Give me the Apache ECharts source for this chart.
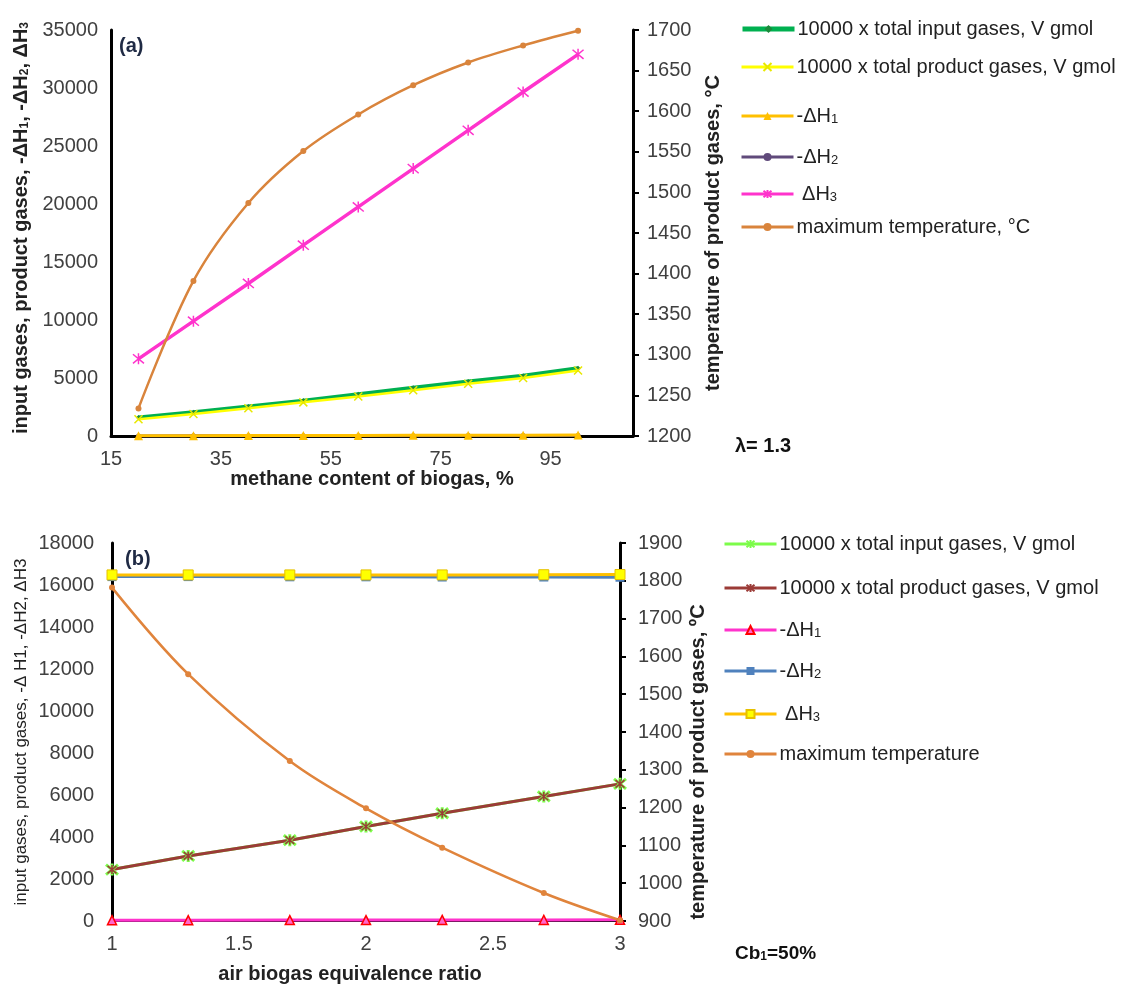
<!DOCTYPE html>
<html><head><meta charset="utf-8">
<script src="https://cdn.jsdelivr.net/npm/echarts@6/dist/echarts.min.js"></script>
<style>html,body{margin:0;padding:0;background:#fff}#c{width:1122px;height:985px}</style>
</head><body><div id="c"></div><script>
// ---------- (a) methane content of biogas ----------
const methaneContent = [20, 30, 40, 50, 60, 70, 80, 90, 100];
const aInputGases   = [1600, 2050, 2550, 3050, 3600, 4150, 4700, 5200, 5850];
const aProductGases = [1450, 1900, 2400, 2900, 3400, 3950, 4500, 5000, 5650];
const aDH1          = [20, 30, 35, 45, 50, 60, 65, 75, 80];
const aDH2          = [10, 15, 20, 25, 25, 30, 35, 40, 45];
const aDH3          = [6650, 9900, 13150, 16450, 19750, 23050, 26350, 29650, 32900];
const aMaxTemp      = [1234, 1391, 1487, 1551, 1596, 1632, 1660, 1681, 1699];
const aXTicks = [15, 35, 55, 75, 95];
const aLeftTicks = [0, 5000, 10000, 15000, 20000, 25000, 30000, 35000];
const aRightTicks = [1200, 1250, 1300, 1350, 1400, 1450, 1500, 1550, 1600, 1650, 1700];

// ---------- (b) air biogas equivalence ratio ----------
const airRatio      = [1, 1.3, 1.7, 2.0, 2.3, 2.7, 3.0];
const bInputGases   = [2450, 3100, 3850, 4500, 5130, 5930, 6530];
const bProductGases = [2450, 3100, 3850, 4500, 5130, 5930, 6530];
const bDH1          = [40, 40, 45, 45, 50, 50, 55];
const bDH2          = [16400, 16400, 16390, 16390, 16380, 16380, 16370];
const bDH3          = [16480, 16480, 16480, 16480, 16480, 16490, 16500];
const bMaxTemp      = [1782, 1553, 1323, 1198, 1094, 974, 902];
const bXTicks = [1, 1.5, 2, 2.5, 3];
const bLeftTicks = [0, 2000, 4000, 6000, 8000, 10000, 12000, 14000, 16000, 18000];
const bRightTicks = [900, 1000, 1100, 1200, 1300, 1400, 1500, 1600, 1700, 1800, 1900];

const FONT = 'Liberation Sans, Arial, sans-serif';
const pairs = (xs, ys) => xs.map((x, i) => [x, ys[i]]);
const SYM_X = 'path://M0,0L10,10M10,0L0,10';
const SYM_AST = 'path://M0,0L10,10M10,0L0,10M5,-1L5,11';
const plain = (v) => String(v);

const legendLabels = {
  'a1': '10000 x total input gases, V gmol',
  'a2': '10000 x total product gases, V gmol',
  'a3': '-ΔH{s|1}',
  'a4': '-ΔH{s|2}',
  'a5': ' ΔH{s|3}',
  'a6': 'maximum temperature, °C',
  'b1': '10000 x total input gases, V gmol',
  'b2': '10000 x total product gases, V gmol',
  'b3': '-ΔH{s|1}',
  'b4': '-ΔH{s|2}',
  'b5': ' ΔH{s|3}',
  'b6': 'maximum temperature'
};
const legendPos = [
  ['a1', 740, 30, 5], ['a2', 740, 68, 3], ['a3', 740, 117, 3], ['a4', 740, 158, 3], ['a5', 740, 195, 3], ['a6', 740, 228, 3],
  ['b1', 723, 545, 3], ['b2', 723, 589, 3], ['b3', 723, 631, 3], ['b4', 723, 672, 3], ['b5', 723, 715, 3], ['b6', 723, 755, 3]
];
const legends = legendPos.map(([n, x, y, w]) => ({
  data: [n], left: x, top: y - 11, padding: 0, itemWidth: 52, itemHeight: 10, itemGap: 5,
  lineStyle: { width: w },
  formatter: (name) => legendLabels[name],
  textStyle: { fontFamily: FONT, fontSize: 20, color: '#222', padding: [0, 0, 0, -2],
    rich: { s: { fontFamily: FONT, fontSize: 13, color: '#222', padding: [7, 0, 0, 0] } } }
}));

const axisLabelStyle = { fontFamily: FONT, fontSize: 20, color: '#404040', formatter: plain };
const blackLine = (w) => ({ show: true, onZero: false, lineStyle: { color: '#000', width: w } });

const option = {
  animation: false,
  backgroundColor: '#fff',
  legend: legends,
  grid: [
    { left: 111, right: 1122 - 633, top: 30, bottom: 985 - 436 },
    { left: 112, right: 1122 - 620, top: 543, bottom: 985 - 926 }
  ],
  xAxis: [
    { type: 'value', gridIndex: 0, min: 15, max: 110, interval: 20,
      axisLine: blackLine(3), axisTick: { show: false }, splitLine: { show: false },
      axisLabel: Object.assign({ margin: 13, showMaxLabel: false }, axisLabelStyle),
      name: 'methane content of biogas, %', nameLocation: 'middle', nameGap: 32,
      nameTextStyle: { fontFamily: FONT, fontSize: 20, fontWeight: 'bold', color: '#222' } },
    { type: 'value', gridIndex: 1, min: 1, max: 3, interval: 0.5,
      axisLine: blackLine(2), axisTick: { show: false }, splitLine: { show: false },
      axisLabel: Object.assign({ margin: 13 }, axisLabelStyle),
      name: 'air biogas equivalence ratio', nameLocation: 'middle', nameGap: 43,
      nameTextStyle: { fontFamily: FONT, fontSize: 20, fontWeight: 'bold', color: '#222', padding: [0, 32, 0, 0] } }
  ],
  yAxis: [
    { type: 'value', gridIndex: 0, position: 'left', min: 0, max: 35000, interval: 5000,
      axisLine: blackLine(3), axisTick: { show: false }, splitLine: { show: false },
      axisLabel: Object.assign({ margin: 13 }, axisLabelStyle),
      name: 'input gases, product gases, -ΔH{s|1}, -ΔH{s|2}, ΔH{s|3}', nameLocation: 'middle', nameGap: 80,
      nameTextStyle: { fontFamily: FONT, fontSize: 20, fontWeight: 'bold', color: '#222', padding: [0, 0, 0, 10],
        rich: { s: { fontFamily: FONT, fontSize: 12, fontWeight: 'bold', color: '#222', padding: [8, 0, 0, 0] } } } },
    { type: 'value', gridIndex: 0, position: 'right', min: 1200, max: 1700, interval: 50,
      axisLine: blackLine(3), axisTick: { show: true, inside: false, length: 6, lineStyle: { color: '#000', width: 2 } },
      splitLine: { show: false },
      axisLabel: Object.assign({ margin: 14 }, axisLabelStyle),
      name: 'temperature of product gases, °C', nameLocation: 'middle', nameGap: 70,
      nameTextStyle: { fontFamily: FONT, fontSize: 20, fontWeight: 'bold', color: '#222' } },
    { type: 'value', gridIndex: 1, position: 'left', min: 0, max: 18000, interval: 2000,
      axisLine: blackLine(3), axisTick: { show: false }, splitLine: { show: false },
      axisLabel: Object.assign({ margin: 18 }, axisLabelStyle),
      name: 'input gases, product gases, -Δ H1, -ΔH2, ΔH3', nameLocation: 'middle', nameGap: 82,
      nameTextStyle: { fontFamily: FONT, fontSize: 17, color: '#222' } },
    { type: 'value', gridIndex: 1, position: 'right', min: 900, max: 1900, interval: 100,
      axisLine: blackLine(3), axisTick: { show: true, inside: false, length: 6, lineStyle: { color: '#000', width: 2 } },
      splitLine: { show: false },
      axisLabel: Object.assign({ margin: 18 }, axisLabelStyle),
      name: 'temperature of product gases, ºC', nameLocation: 'middle', nameGap: 68,
      nameTextStyle: { fontFamily: FONT, fontSize: 20, fontWeight: 'bold', color: '#222', padding: [0, 60, 0, 0] } }
  ],
  series: [
    { name: 'a1', type: 'line', xAxisIndex: 0, yAxisIndex: 0, data: pairs(methaneContent, aInputGases),
      lineStyle: { color: '#00b050', width: 4 }, itemStyle: { color: '#1a8a3a' }, symbol: 'diamond', symbolSize: 5 },
    { name: 'a2', type: 'line', xAxisIndex: 0, yAxisIndex: 0, data: pairs(methaneContent, aProductGases),
      lineStyle: { color: '#ffff00', width: 2.5 }, itemStyle: { color: '#ffff00', borderColor: '#e8e800', borderWidth: 1.5 }, symbol: SYM_X, symbolSize: 8 },
    { name: 'a3', type: 'line', xAxisIndex: 0, yAxisIndex: 0, data: pairs(methaneContent, aDH1),
      lineStyle: { color: '#ffc000', width: 3 }, itemStyle: { color: '#ffc000' }, symbol: 'triangle', symbolSize: 9 },
    { name: 'a4', type: 'line', xAxisIndex: 0, yAxisIndex: 0, data: pairs(methaneContent, aDH2),
      lineStyle: { color: '#604a7b', width: 3 }, itemStyle: { color: '#604a7b' }, symbol: 'circle', symbolSize: 5, z: 1 },
    { name: 'a5', type: 'line', xAxisIndex: 0, yAxisIndex: 0, data: pairs(methaneContent, aDH3),
      lineStyle: { color: '#ff33cc', width: 3.5 }, itemStyle: { color: '#ff33cc', borderColor: '#ff33cc', borderWidth: 1.5 }, symbol: SYM_AST, symbolSize: 11 },
    { name: 'a6', type: 'line', xAxisIndex: 0, yAxisIndex: 1, data: pairs(methaneContent, aMaxTemp), smooth: 0.35,
      lineStyle: { color: '#d9843c', width: 2.5 }, itemStyle: { color: '#d9843c' }, symbol: 'circle', symbolSize: 6 },

    { name: 'b1', type: 'line', xAxisIndex: 1, yAxisIndex: 2, data: pairs(airRatio, bInputGases),
      lineStyle: { color: '#7cfc4a', width: 3 }, itemStyle: { color: '#7cfc4a', borderColor: '#7cfc4a', borderWidth: 3 }, symbol: SYM_AST, symbolSize: 12 },
    { name: 'b2', type: 'line', xAxisIndex: 1, yAxisIndex: 2, data: pairs(airRatio, bProductGases),
      lineStyle: { color: '#9b3b37', width: 3 }, itemStyle: { color: '#9b3b37', borderColor: '#9b3b37', borderWidth: 1.5 }, symbol: SYM_AST, symbolSize: 9 },
    { name: 'b3', type: 'line', xAxisIndex: 1, yAxisIndex: 2, data: pairs(airRatio, bDH1),
      lineStyle: { color: '#ff33cc', width: 3 }, itemStyle: { color: '#ff66cc', borderColor: '#ff0000', borderWidth: 1.5 }, symbol: 'triangle', symbolSize: 9 },
    { name: 'b4', type: 'line', xAxisIndex: 1, yAxisIndex: 2, data: pairs(airRatio, bDH2),
      lineStyle: { color: '#4f81bd', width: 3 }, itemStyle: { color: '#4f81bd' }, symbol: 'rect', symbolSize: 9 },
    { name: 'b5', type: 'line', xAxisIndex: 1, yAxisIndex: 2, data: pairs(airRatio, bDH3),
      lineStyle: { color: '#ffc000', width: 3 }, itemStyle: { color: '#ffff00', borderColor: '#e6c000', borderWidth: 1 }, symbol: 'rect', symbolSize: 10 },
    { name: 'b6', type: 'line', xAxisIndex: 1, yAxisIndex: 3, data: pairs(airRatio, bMaxTemp), smooth: 0.35,
      lineStyle: { color: '#e0843c', width: 2.5 }, itemStyle: { color: '#e0843c' }, symbol: 'circle', symbolSize: 6 }
  ],
  graphic: [
    { type: 'text', left: 119, top: 36, style: { text: '(a)', font: 'bold 20px ' + FONT, fill: '#1f2a44' } },
    { type: 'text', left: 125, top: 549, style: { text: '(b)', font: 'bold 20px ' + FONT, fill: '#1f2a44' } },
    { type: 'text', left: 735, top: 436, style: { text: 'λ= 1.3', font: 'bold 20px ' + FONT, fill: '#111' } },
    { type: 'text', left: 735, top: 944, style: { text: 'Cb{s|1}=50%', font: 'bold 19px ' + FONT, fill: '#111',
        rich: { s: { font: 'bold 12px ' + FONT, fill: '#111', padding: [7, 0, 0, 0] } } } }
  ]
};
const chart = echarts.init(document.getElementById('c'), null, { renderer: 'canvas' });
chart.setOption(option);
</script></body></html>
